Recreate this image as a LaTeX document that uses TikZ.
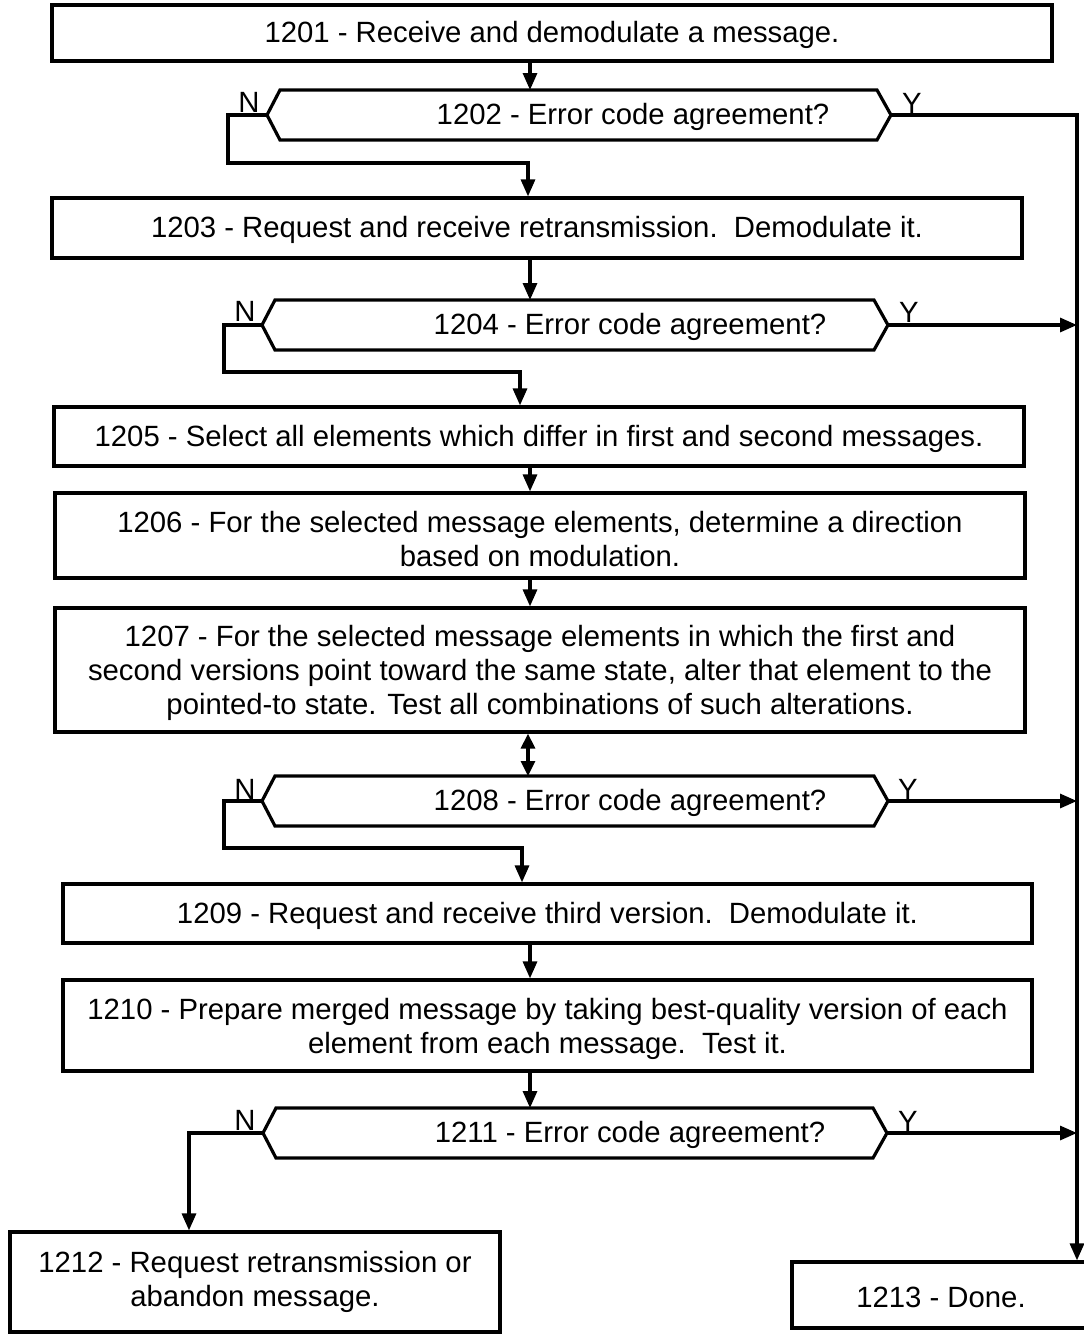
\documentclass[tikz,border=0pt]{standalone}
\usepackage{fontspec}
\setmainfont{Liberation Sans}
\usetikzlibrary{arrows.meta}
\newcommand\fsz{\fontsize{29.3}{34}\selectfont}
\newcommand\lowstrut{\rule{0pt}{28pt}}
\newcommand\mydecision[1]{%
  \draw[line] (#1.west) -- ([xshift=13pt]#1.north west) -- ([xshift=-14pt]#1.north east)
    -- (#1.east) -- ([xshift=-14pt]#1.south east) -- ([xshift=13pt]#1.south west) -- cycle;}
\begin{document}
\begin{tikzpicture}[x=1pt,y=-1pt,
  line/.style={line width=3.2pt, line join=miter},
  arr/.style={line, -{Triangle[length=17pt,width=14pt]}},
  dbl/.style={line, {Triangle[length=15pt,width=14pt]}-{Triangle[length=15pt,width=14pt]}},
  box/.style={draw, line width=3.2pt, inner sep=0pt, align=center, font=\fsz},
  low/.style={execute at begin node={\rule{0pt}{26pt}}},
  lbl/.style={font=\fsz, inner sep=0pt},
  ghost/.style={inner sep=0pt, outer sep=0pt, minimum height=50pt}]
\useasboundingbox (0,0) rectangle (1084,1334);
\clip (0,0) rectangle (1084,1334);
\fill[white] (0,0) rectangle (1084,1334);

% process boxes
\node[box, low, minimum width=1000pt, minimum height=56pt] (b1201) at (552,33) {1201 - Receive and demodulate a message.};
\node[box, low, minimum width=970pt, minimum height=60pt] (b1203) at (537,228) {1203 - Request and receive retransmission.\ \ Demodulate it.};
\node[box, low, minimum width=970pt, minimum height=59pt] (b1205) at (539,436.5) {1205 - Select all elements which differ in first and second messages.};
\node[box, minimum width=970pt, minimum height=85pt] (b1206) at (540,535.5) {\lowstrut 1206 - For the selected message elements, determine a direction\\based on modulation.};
\node[box, minimum width=970pt, minimum height=124pt] (b1207) at (540,670) {\lowstrut 1207 - For the selected message elements in which the first and\\second versions point toward the same state, alter that element to the\\pointed-to state. Test all combinations of such alterations.};
\node[box, low, minimum width=969pt, minimum height=59pt] (b1209) at (547.5,913.5) {1209 - Request and receive third version.\ \ Demodulate it.};
\node[box, minimum width=969pt, minimum height=91pt] (b1210) at (547.5,1025.5) {\lowstrut 1210 - Prepare merged message by taking best-quality version of each\\element from each message.\ \ Test it.};
\node[box, minimum width=490pt, minimum height=100pt] (b1212) at (255,1282) {1212 - Request retransmission or\\abandon message.};
\node[box, low, minimum width=298pt, minimum height=66pt] (b1213) at (941,1295) {1213 - Done.};

% decisions
\node[ghost, minimum width=624pt] (d1202) at (579,115) {};
\node[ghost, minimum width=626pt] (d1204) at (575,325) {};
\node[ghost, minimum width=626pt] (d1208) at (575,801) {};
\node[ghost, minimum width=624pt] (d1211) at (575,1133) {};
\mydecision{d1202}
\mydecision{d1204}
\mydecision{d1208}
\mydecision{d1211}
\node[lbl, low] (t1202) at (633,115) {1202 - Error code agreement?};
\node[lbl, low] (t1204) at (630,325) {1204 - Error code agreement?};
\node[lbl, low] (t1208) at (630,801) {1208 - Error code agreement?};
\node[lbl, low] (t1211) at (630,1133) {1211 - Error code agreement?};

% labels
\node[lbl] (n1202) at (249,102) {N};
\node[lbl] (y1202) at (912,103) {Y};
\node[lbl] (n1204) at (245,311) {N};
\node[lbl] (y1204) at (909,312) {Y};
\node[lbl] (n1208) at (245,789) {N};
\node[lbl] (y1208) at (908,789) {Y};
\node[lbl] (n1211) at (245,1120) {N};
\node[lbl] (y1211) at (908,1121) {Y};

% helper columns
\coordinate (xa) at (530,0);
\coordinate (xb) at (528,0);
\coordinate (xc) at (520,0);
\coordinate (xd) at (522,0);
\coordinate (xe) at (189,0);
\coordinate (xR) at (1077,0);
\coordinate (l1) at (228,163);
\coordinate (l2) at (224,372);
\coordinate (l3) at (224,848);

% main flow
\draw[arr] (xa |- b1201.south) -- (xa |- d1202.north);
\draw[arr] (d1202.west) -| (l1) -| (b1203.north -| xb);
\draw[arr] (xa |- b1203.south) -- (xa |- d1204.north);
\draw[arr] (d1204.west) -| (l2) -| (b1205.north -| xc);
\draw[arr] (xa |- b1205.south) -- (xa |- b1206.north);
\draw[arr] (xa |- b1206.south) -- (xa |- b1207.north);
\draw[dbl] (xb |- b1207.south) -- (xb |- d1208.north);
\draw[arr] (d1208.west) -| (l3) -| (b1209.north -| xd);
\draw[arr] (xa |- b1209.south) -- (xa |- b1210.north);
\draw[arr] (xa |- b1210.south) -- (xa |- d1211.north);
\draw[arr] (d1211.west) -| (b1212.north -| xe);

% yes trunk
\draw[arr] (d1202.east) -| (b1213.north -| xR);
\draw[arr] (d1204.east) -- (xR |- d1204.east);
\draw[arr] (d1208.east) -- (xR |- d1208.east);
\draw[arr] (d1211.east) -- (xR |- d1211.east);
\end{tikzpicture}
\end{document}
